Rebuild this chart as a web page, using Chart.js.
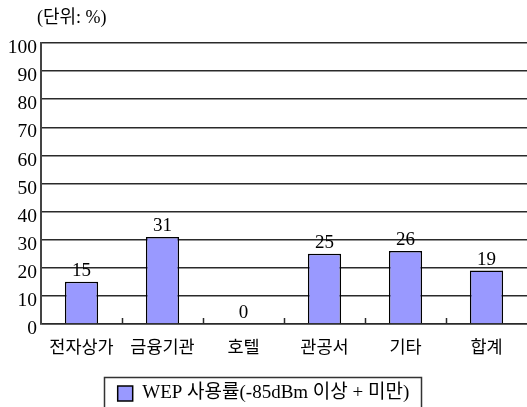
<!DOCTYPE html>
<html>
<head>
<meta charset="utf-8">
<script src="https://cdn.jsdelivr.net/npm/chart.js@4/dist/chart.umd.min.js"></script>
<style>
  html, body { margin: 0; padding: 0; background: #fff; }
  #wrap { width: 527px; height: 407px; position: relative; }
</style>
</head>
<body>
<div id="wrap"><canvas id="c" width="527" height="407"></canvas></div>
<script>
const categories = ['전자상가', '금융기관', '호텔', '관공서', '기타', '합계'];
const wepUsage = [15, 31, 0, 25, 26, 19];
const seriesLabel = 'WEP 사용률(-85dBm 이상 + 미만)';
const unitLabel = '(단위: %)';
const yTicks = [0, 10, 20, 30, 40, 50, 60, 70, 80, 90, 100];

const FONT = '"Liberation Serif", "Noto Sans CJK KR", serif';
const LINE = '#2a2a2a';

// Unit caption, value labels, inward category ticks and the legend frame
const decorations = {
  id: 'decorations',
  afterDatasetsDraw(chart) {
    const ctx = chart.ctx;
    const xs = chart.scales.x;
    const area = chart.chartArea;
    ctx.save();
    // value above each bar
    ctx.fillStyle = '#000';
    ctx.font = '19px ' + FONT;
    ctx.textAlign = 'center';
    ctx.textBaseline = 'alphabetic';
    chart.getDatasetMeta(0).data.forEach((bar, i) => {
      ctx.fillText(String(wepUsage[i]), bar.x, bar.y - 6);
    });
    // short tick marks between categories, pointing up into the plot
    ctx.strokeStyle = LINE;
    ctx.lineWidth = 1.5;
    for (let i = 0; i < categories.length - 1; i++) {
      const bx = (xs.getPixelForValue(i) + xs.getPixelForValue(i + 1)) / 2;
      ctx.beginPath();
      ctx.moveTo(Math.round(bx) + 0.5, area.bottom);
      ctx.lineTo(Math.round(bx) + 0.5, area.bottom - 6);
      ctx.stroke();
    }
    ctx.restore();
  },
  afterDraw(chart) {
    const ctx = chart.ctx;
    ctx.save();
    // unit caption
    ctx.fillStyle = '#000';
    ctx.font = '18px ' + FONT;
    ctx.textAlign = 'left';
    ctx.textBaseline = 'middle';
    ctx.fillText(unitLabel, 37, 18);
    // frame around the legend item
    const hb = chart.legend.legendHitBoxes[0];
    if (hb) {
      ctx.strokeStyle = '#333';
      ctx.lineWidth = 1.5;
      const l = Math.round(hb.left) - 13.5;
      const t = Math.round(hb.top + hb.height / 2) - 16.5;
      const r = Math.round(hb.left + hb.width) + 12.5;
      ctx.strokeRect(l, t, r - l, 60);
    }
    ctx.restore();
  }
};

new Chart(document.getElementById('c'), {
  type: 'bar',
  data: {
    labels: categories,
    datasets: [{
      label: seriesLabel,
      data: wepUsage,
      backgroundColor: '#9999FF',
      borderColor: '#000',
      borderWidth: 1.5,
      borderSkipped: 'bottom',
      categoryPercentage: 1.0,
      barPercentage: 0.41
    }]
  },
  options: {
    responsive: false,
    animation: false,
    devicePixelRatio: 1,
    layout: { padding: { top: 43, right: 0, bottom: -6, left: 0 } },
    plugins: {
      tooltip: { enabled: false },
      title: { display: false },
      legend: {
        display: true,
        position: 'bottom',
        labels: {
          color: '#000',
          font: { family: FONT, size: 19 },
          boxWidth: 15,
          boxHeight: 15,
          padding: 5,
          generateLabels(chart) {
            return [{
              text: seriesLabel,
              fillStyle: '#9999FF',
              strokeStyle: '#000',
              lineWidth: 1.5,
              datasetIndex: 0,
              hidden: false
            }];
          }
        }
      }
    },
    scales: {
      x: {
        grid: { display: false, drawTicks: false },
        border: { display: true, color: LINE, width: 1.5 },
        ticks: {
          color: '#000',
          font: { family: FONT, size: 17.5 },
          padding: 14
        },
        afterFit(scale) { scale.height = 55; }
      },
      y: {
        min: 0,
        max: 100,
        afterBuildTicks(scale) { scale.ticks = yTicks.map(v => ({ value: v })); },
        grid: { color: LINE, lineWidth: 1.5, drawTicks: false },
        border: { display: true, color: '#444', width: 2 },
        ticks: {
          color: '#000',
          font: { family: FONT, size: 19.5 },
          padding: 4,
          labelOffset: 5
        },
        afterFit(scale) { scale.width = 41; }
      }
    }
  },
  plugins: [decorations]
});
</script>
</body>
</html>
